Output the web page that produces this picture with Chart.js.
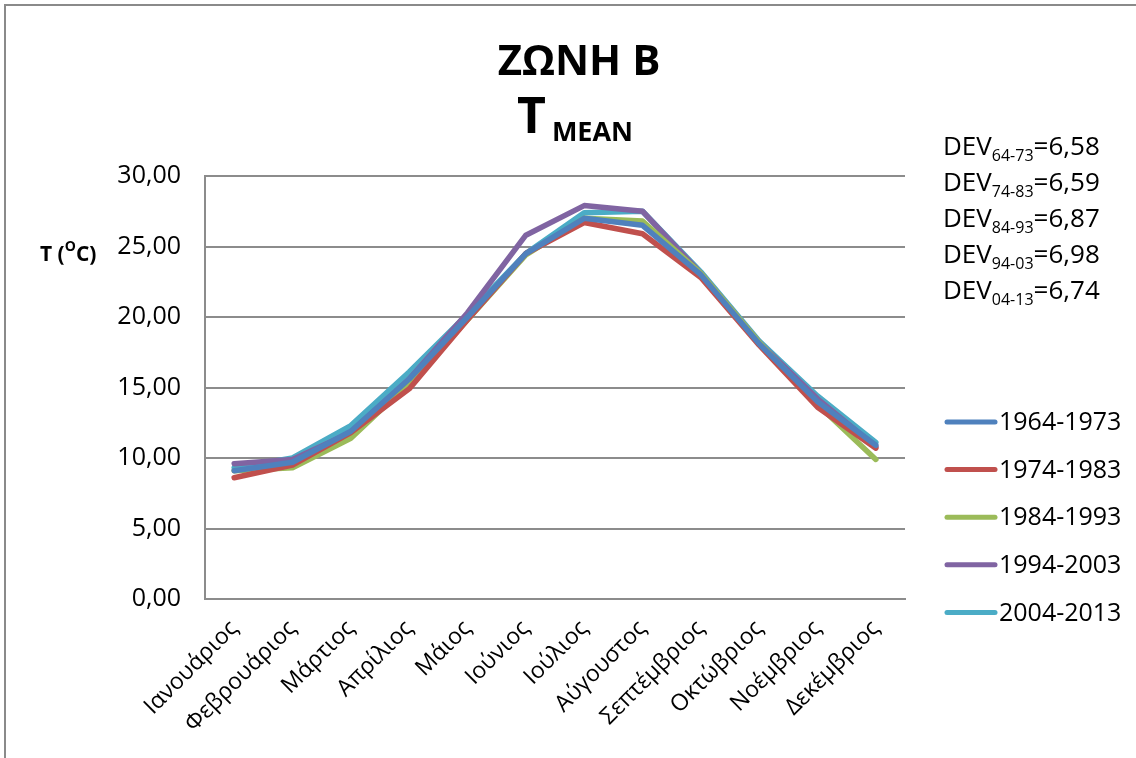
<!DOCTYPE html>
<html lang="el">
<head>
<meta charset="utf-8">
<title>ΖΩΝΗ Β - T MEAN</title>
<script src="https://cdn.jsdelivr.net/npm/chart.js@4/dist/chart.umd.min.js"></script>
<style>
  html, body { margin: 0; padding: 0; background: #fff; overflow: hidden; }
  #wrap { position: relative; width: 1136px; height: 758px; }
  #frame { position: absolute; left: 4px; top: 4px; width: 1300px; height: 900px; border: 2px solid #8a8a8a; box-sizing: border-box; }
  #chart { position: absolute; left: 0; top: 0; }
</style>
</head>
<body>
<div id="wrap">
  <div id="frame"></div>
  <canvas id="chart" width="1136" height="758"></canvas>
</div>
<script>
const months = ['Ιανουάριος', 'Φεβρουάριος', 'Μάρτιος', 'Απρίλιος', 'Μάιος', 'Ιούνιος',
  'Ιούλιος', 'Αύγουστος', 'Σεπτέμβριος', 'Οκτώβριος', 'Νοέμβριος', 'Δεκέμβριος'];

const t6473 = [9.1, 9.7, 11.9, 15.6, 20.0, 24.5, 27.0, 26.5, 23.0, 18.1, 14.0, 10.9];
const t7483 = [8.6, 9.5, 11.8, 14.9, 19.8, 24.5, 26.7, 25.9, 22.8, 18.0, 13.6, 10.7];
const t8493 = [9.1, 9.3, 11.4, 15.3, 19.8, 24.4, 27.0, 26.8, 23.1, 18.2, 13.8, 9.9];
const t9403 = [9.6, 9.9, 11.8, 15.6, 20.3, 25.8, 27.9, 27.5, 23.1, 18.2, 14.2, 10.8];
const t0413 = [9.3, 10.0, 12.3, 16.1, 20.2, 24.5, 27.4, 27.5, 23.2, 18.3, 14.4, 11.1];

const periods = ['1964-1973', '1974-1983', '1984-1993', '1994-2003', '2004-2013'];
const colors = ['#4f81bd', '#c0504d', '#9bbb59', '#8064a2', '#4bacc6'];

const yTickLabels = ['0,00', '5,00', '10,00', '15,00', '20,00', '25,00', '30,00'];

const devPeriods = ['64-73', '74-83', '84-93', '94-03', '04-13'];
const devValues = ['6,58', '6,59', '6,87', '6,98', '6,74'];

const FONT = '"Open Sans", "Noto Sans", sans-serif';

// titles, axis caption, DEV block and legend drawn straight onto the canvas
const annotations = {
  id: 'annotations',
  afterDraw(chart) {
    const ctx = chart.ctx;
    ctx.save();
    ctx.fillStyle = '#000';
    ctx.textBaseline = 'alphabetic';

    // main title
    ctx.font = 'bold 42px ' + FONT;
    ctx.textAlign = 'center';
    ctx.fillText('ΖΩΝΗ Β', 579, 75);

    // T with subscript MEAN
    ctx.textAlign = 'left';
    ctx.font = 'bold 50px ' + FONT;
    const tw = ctx.measureText('T').width;
    ctx.font = 'bold 27px ' + FONT;
    const mw = ctx.measureText('MEAN').width;
    const tx = 575 - (tw + 6 + mw) / 2;
    ctx.font = 'bold 50px ' + FONT;
    ctx.fillText('T', tx, 133);
    ctx.font = 'bold 27px ' + FONT;
    ctx.fillText('MEAN', tx + tw + 6, 141);

    // y axis caption T (°C) with superscript O
    let x = 40;
    ctx.font = 'bold 21px ' + FONT;
    ctx.fillText('T (', x, 261);
    x += ctx.measureText('T (').width;
    ctx.font = 'bold 14px ' + FONT;
    ctx.fillText('O', x, 251);
    x += ctx.measureText('O').width;
    ctx.font = 'bold 21px ' + FONT;
    ctx.fillText('C)', x, 261);

    // DEV values with period subscripts
    devPeriods.forEach((p, i) => {
      const y = 155 + i * 36;
      let dx = 943;
      ctx.font = '26px ' + FONT;
      ctx.fillText('DEV', dx, y);
      dx += ctx.measureText('DEV').width;
      ctx.font = '16px ' + FONT;
      ctx.fillText(p, dx, y + 6);
      dx += ctx.measureText(p).width;
      ctx.font = '26px ' + FONT;
      ctx.fillText('=' + devValues[i], dx, y);
    });

    // legend
    ctx.font = '25px ' + FONT;
    ctx.textBaseline = 'middle';
    ctx.lineCap = 'round';
    chart.data.datasets.forEach((ds, i) => {
      const y = 422 + i * 47.6;
      ctx.strokeStyle = ds.borderColor;
      ctx.lineWidth = 5;
      ctx.beginPath();
      ctx.moveTo(947, y);
      ctx.lineTo(995, y);
      ctx.stroke();
      ctx.fillStyle = '#000';
      ctx.fillText(ds.label, 999, y + 1);
    });
    ctx.restore();
  }
};

const series = [t6473, t7483, t8493, t9403, t0413];

new Chart(document.getElementById('chart'), {
  type: 'line',
  data: {
    labels: months,
    datasets: series.map((data, i) => ({
      label: periods[i],
      data,
      borderColor: colors[i],
      backgroundColor: colors[i],
      borderWidth: 5.5,
      pointRadius: 0,
      tension: 0,
      borderJoinStyle: 'round',
      borderCapStyle: 'round'
    }))
  },
  options: {
    responsive: false,
    animation: false,
    layout: { padding: { left: 0, top: 176, right: 231, bottom: 0 } },
    plugins: {
      legend: { display: false },
      title: { display: false },
      tooltip: { enabled: false }
    },
    scales: {
      x: {
        offset: true,
        grid: { display: false },
        border: { display: true, color: '#8c8c8c', width: 2 },
        ticks: {
          color: '#000',
          font: { family: FONT, size: 23 },
          minRotation: 45,
          maxRotation: 45,
          padding: 8
        },
        afterFit(scale) { scale.height = 159; }
      },
      y: {
        min: 0,
        max: 30,
        grid: { color: '#8c8c8c', lineWidth: 2, drawTicks: false },
        border: { display: true, color: '#8c8c8c', width: 2 },
        ticks: {
          stepSize: 5,
          color: '#000',
          padding: 24,
          font: { family: FONT, size: 25 },
          callback: (v, i) => yTickLabels[i]
        },
        afterFit(scale) { scale.width = 205; }
      }
    }
  },
  plugins: [annotations]
});
</script>
</body>
</html>
